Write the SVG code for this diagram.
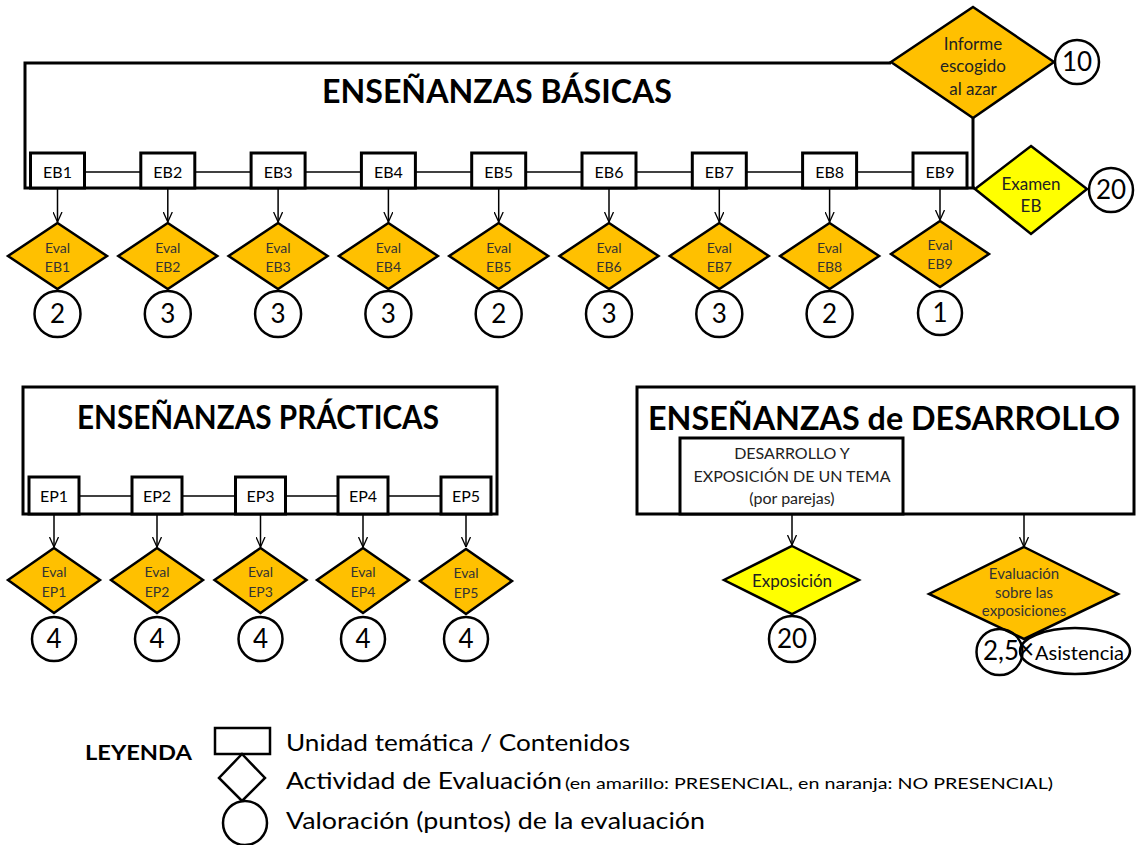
<svg xmlns="http://www.w3.org/2000/svg" width="1136" height="845" viewBox="0 0 1136 845">
<style>
text{font-family:Lato,"Liberation Sans",sans-serif;fill:#000}
.frame{fill:#fff;stroke:#000;stroke-width:3}
.box{fill:#fff;stroke:#000;stroke-width:3}
.dor{fill:#FFC000;stroke:#000;stroke-width:2.5;stroke-linejoin:miter}
.dye{fill:#FFFF00;stroke:#000;stroke-width:2.5}
.circ{fill:#fff;stroke:#000;stroke-width:2.5}
.ln{stroke:#000;stroke-width:1.5;fill:none}
.thick{stroke:#000;stroke-width:3;fill:none}
.title{font-weight:bold;font-size:32px}
.bl{font-size:16px;text-anchor:middle}
.ev{font-size:14px;text-anchor:middle;fill:#333}
.num{font-size:26px;text-anchor:middle}
.dt{font-size:16px;text-anchor:middle;fill:#222}
.leg{font-size:23px}
</style>
<defs>
<marker id="arr" viewBox="0 0 10 10" refX="10" refY="5" markerWidth="10" markerHeight="10" markerUnits="userSpaceOnUse" orient="auto">
<path d="M0,0.5 L10,5 L0,9.5" fill="none" stroke="#000" stroke-width="1.3"/>
</marker>
</defs>

<!-- Frames -->
<g id="frame-eb">
<path class="thick" d="M891,63 L25,63 L25,188 L975,188 M973,118 L973,188"/>
<text class="title" x="322" y="103" textLength="350" lengthAdjust="spacingAndGlyphs">ENSEÑANZAS BÁSICAS</text>
</g>
<g id="frame-ep">
<rect class="frame" x="23" y="387" width="474" height="127"/>
<text class="title" x="77" y="429" textLength="362" lengthAdjust="spacingAndGlyphs">ENSEÑANZAS PRÁCTICAS</text>
</g>
<g id="frame-ed">
<rect class="frame" x="637" y="387" width="497" height="127"/>
<text class="title" x="648" y="430" textLength="472" lengthAdjust="spacingAndGlyphs">ENSEÑANZAS de DESARROLLO</text>
</g>

<!-- Connectors -->
<g id="connectors">
<line class="ln" x1="57" y1="172" x2="940" y2="172"/>
<line class="ln" x1="54" y1="496" x2="466" y2="496"/>
<line class="ln" x1="57.5" y1="188" x2="57.5" y2="222" marker-end="url(#arr)"/>
<line class="ln" x1="167.8" y1="188" x2="167.8" y2="222" marker-end="url(#arr)"/>
<line class="ln" x1="278.1" y1="188" x2="278.1" y2="222" marker-end="url(#arr)"/>
<line class="ln" x1="388.4" y1="188" x2="388.4" y2="222" marker-end="url(#arr)"/>
<line class="ln" x1="498.7" y1="188" x2="498.7" y2="222" marker-end="url(#arr)"/>
<line class="ln" x1="609" y1="188" x2="609" y2="222" marker-end="url(#arr)"/>
<line class="ln" x1="719.3" y1="188" x2="719.3" y2="222" marker-end="url(#arr)"/>
<line class="ln" x1="829.6" y1="188" x2="829.6" y2="222" marker-end="url(#arr)"/>
<line class="ln" x1="940" y1="188" x2="940" y2="220" marker-end="url(#arr)"/>
<line class="ln" x1="54" y1="514" x2="54" y2="547" marker-end="url(#arr)"/>
<line class="ln" x1="157" y1="514" x2="157" y2="547" marker-end="url(#arr)"/>
<line class="ln" x1="260.5" y1="514" x2="260.5" y2="547" marker-end="url(#arr)"/>
<line class="ln" x1="363" y1="514" x2="363" y2="547" marker-end="url(#arr)"/>
<line class="ln" x1="466" y1="514" x2="466" y2="547" marker-end="url(#arr)"/>
<line class="ln" x1="792" y1="514" x2="792" y2="545" marker-end="url(#arr)"/>
<line class="ln" x1="1024" y1="514" x2="1024" y2="547" marker-end="url(#arr)"/>
</g>

<!-- EB boxes -->
<g id="EB1"><rect class="box" x="30.5" y="153" width="54" height="35"/><text class="bl" x="57.5" y="178">EB1</text></g>
<g id="EB2"><rect class="box" x="140.8" y="153" width="54" height="35"/><text class="bl" x="167.8" y="178">EB2</text></g>
<g id="EB3"><rect class="box" x="251.1" y="153" width="54" height="35"/><text class="bl" x="278.1" y="178">EB3</text></g>
<g id="EB4"><rect class="box" x="361.4" y="153" width="54" height="35"/><text class="bl" x="388.4" y="178">EB4</text></g>
<g id="EB5"><rect class="box" x="471.7" y="153" width="54" height="35"/><text class="bl" x="498.7" y="178">EB5</text></g>
<g id="EB6"><rect class="box" x="582" y="153" width="54" height="35"/><text class="bl" x="609" y="178">EB6</text></g>
<g id="EB7"><rect class="box" x="692.3" y="153" width="54" height="35"/><text class="bl" x="719.3" y="178">EB7</text></g>
<g id="EB8"><rect class="box" x="802.6" y="153" width="54" height="35"/><text class="bl" x="829.6" y="178">EB8</text></g>
<g id="EB9"><rect class="box" x="913" y="153" width="54" height="35"/><text class="bl" x="940" y="178">EB9</text></g>

<!-- EB evaluation diamonds -->
<g id="EvalEB1"><polygon class="dor" points="57.5,223 107,256 57.5,289 8,256"/><text class="ev" x="57.5" y="253">Eval</text><text class="ev" x="57.5" y="272">EB1</text></g>
<g id="EvalEB2"><polygon class="dor" points="167.8,223 217.3,256 167.8,289 118.3,256"/><text class="ev" x="167.8" y="253">Eval</text><text class="ev" x="167.8" y="272">EB2</text></g>
<g id="EvalEB3"><polygon class="dor" points="278.1,223 327.6,256 278.1,289 228.6,256"/><text class="ev" x="278.1" y="253">Eval</text><text class="ev" x="278.1" y="272">EB3</text></g>
<g id="EvalEB4"><polygon class="dor" points="388.4,223 437.9,256 388.4,289 338.9,256"/><text class="ev" x="388.4" y="253">Eval</text><text class="ev" x="388.4" y="272">EB4</text></g>
<g id="EvalEB5"><polygon class="dor" points="498.7,223 548.2,256 498.7,289 449.2,256"/><text class="ev" x="498.7" y="253">Eval</text><text class="ev" x="498.7" y="272">EB5</text></g>
<g id="EvalEB6"><polygon class="dor" points="609,223 658.5,256 609,289 559.5,256"/><text class="ev" x="609" y="253">Eval</text><text class="ev" x="609" y="272">EB6</text></g>
<g id="EvalEB7"><polygon class="dor" points="719.3,223 768.8,256 719.3,289 669.8,256"/><text class="ev" x="719.3" y="253">Eval</text><text class="ev" x="719.3" y="272">EB7</text></g>
<g id="EvalEB8"><polygon class="dor" points="829.6,223 879.1,256 829.6,289 780.1,256"/><text class="ev" x="829.6" y="253">Eval</text><text class="ev" x="829.6" y="272">EB8</text></g>
<g id="EvalEB9"><polygon class="dor" points="940,221 989,254 940,287 891,254"/><text class="ev" x="940" y="250">Eval</text><text class="ev" x="940" y="269">EB9</text></g>

<!-- EB points -->
<g id="ptEB1"><circle class="circ" cx="57.5" cy="314" r="23"/><text class="num" x="57.5" y="323">2</text></g>
<g id="ptEB2"><circle class="circ" cx="167.8" cy="314" r="23"/><text class="num" x="167.8" y="323">3</text></g>
<g id="ptEB3"><circle class="circ" cx="278.1" cy="314" r="23"/><text class="num" x="278.1" y="323">3</text></g>
<g id="ptEB4"><circle class="circ" cx="388.4" cy="314" r="23"/><text class="num" x="388.4" y="323">3</text></g>
<g id="ptEB5"><circle class="circ" cx="498.7" cy="314" r="23"/><text class="num" x="498.7" y="323">2</text></g>
<g id="ptEB6"><circle class="circ" cx="609" cy="314" r="23"/><text class="num" x="609" y="323">3</text></g>
<g id="ptEB7"><circle class="circ" cx="719.3" cy="314" r="23"/><text class="num" x="719.3" y="323">3</text></g>
<g id="ptEB8"><circle class="circ" cx="829.6" cy="314" r="23"/><text class="num" x="829.6" y="323">2</text></g>
<g id="ptEB9"><circle class="circ" cx="940" cy="313" r="22"/><text class="num" x="940" y="322">1</text></g>

<!-- Informe / Examen -->
<g id="Informe"><polygon class="dor" points="973,7 1054,62 973,118 891,62"/><text class="dt" x="973" y="50" style="font-size:17px">Informe</text><text class="dt" x="973" y="72" style="font-size:17px">escogido</text><text class="dt" x="973" y="95" style="font-size:17px">al azar</text></g>
<g id="ptInforme"><circle class="circ" cx="1077" cy="62" r="22"/><text class="num" x="1077" y="71">10</text></g>
<g id="ExamenEB"><polygon class="dye" points="1031,146 1087,189 1031,234 975,189"/><text class="dt" x="1031" y="190" style="font-size:17px">Examen</text><text class="dt" x="1031" y="212" style="font-size:17px">EB</text></g>
<g id="ptExamen"><circle class="circ" cx="1111" cy="190" r="22"/><text class="num" x="1111" y="199">20</text></g>

<!-- EP boxes -->
<g id="EP1"><rect class="box" x="29" y="477" width="50" height="37"/><text class="bl" x="54" y="502">EP1</text></g>
<g id="EP2"><rect class="box" x="132" y="477" width="50" height="37"/><text class="bl" x="157" y="502">EP2</text></g>
<g id="EP3"><rect class="box" x="235.5" y="477" width="50" height="37"/><text class="bl" x="260.5" y="502">EP3</text></g>
<g id="EP4"><rect class="box" x="338" y="477" width="50" height="37"/><text class="bl" x="363" y="502">EP4</text></g>
<g id="EP5"><rect class="box" x="441" y="477" width="50" height="37"/><text class="bl" x="466" y="502">EP5</text></g>

<g id="EvalEP1"><polygon class="dor" points="54,548 100,580 54,613 8,580"/><text class="ev" x="54" y="577">Eval</text><text class="ev" x="54" y="597">EP1</text></g>
<g id="EvalEP2"><polygon class="dor" points="157,548 203,580 157,613 111,580"/><text class="ev" x="157" y="577">Eval</text><text class="ev" x="157" y="597">EP2</text></g>
<g id="EvalEP3"><polygon class="dor" points="260.5,548 306.5,580 260.5,613 214.5,580"/><text class="ev" x="260.5" y="577">Eval</text><text class="ev" x="260.5" y="597">EP3</text></g>
<g id="EvalEP4"><polygon class="dor" points="363,548 409,580 363,613 317,580"/><text class="ev" x="363" y="577">Eval</text><text class="ev" x="363" y="597">EP4</text></g>
<g id="EvalEP5"><polygon class="dor" points="466,549 512,581 466,614 420,581"/><text class="ev" x="466" y="578">Eval</text><text class="ev" x="466" y="598">EP5</text></g>

<g id="ptEP1"><circle class="circ" cx="54" cy="639" r="22"/><text class="num" x="54" y="648">4</text></g>
<g id="ptEP2"><circle class="circ" cx="157" cy="639" r="22"/><text class="num" x="157" y="648">4</text></g>
<g id="ptEP3"><circle class="circ" cx="260.5" cy="639" r="22"/><text class="num" x="260.5" y="648">4</text></g>
<g id="ptEP4"><circle class="circ" cx="363" cy="639" r="22"/><text class="num" x="363" y="648">4</text></g>
<g id="ptEP5"><circle class="circ" cx="466" cy="639" r="22"/><text class="num" x="466" y="648">4</text></g>

<!-- ED -->
<g id="Desarrollo"><rect class="box" x="680" y="438" width="223" height="76"/>
<text class="dt" x="792" y="459">DESARROLLO Y</text>
<text class="dt" x="792" y="482" textLength="197" lengthAdjust="spacingAndGlyphs">EXPOSICIÓN DE UN TEMA</text>
<text class="dt" x="792" y="504">(por parejas)</text></g>
<g id="Exposicion"><polygon class="dye" points="792,546 859,580 792,614 724,580"/><text class="dt" x="792" y="587" style="font-size:17px">Exposición</text></g>
<g id="ptExposicion"><circle class="circ" cx="792" cy="639" r="23"/><text class="num" x="792" y="648">20</text></g>
<g id="EvalExpo"><polygon class="dor" points="1024,547 1118,594 1024,639 929,594"/><text class="ev" x="1024" y="579" style="font-size:15px">Evaluación</text><text class="ev" x="1024" y="598" style="font-size:15px">sobre las</text><text class="ev" x="1024" y="616" style="font-size:15px">exposiciones</text></g>
<g id="ptEvalExpo"><ellipse class="circ" cx="1075" cy="651" rx="55" ry="23"/><circle cx="999.5" cy="652" r="23" fill="none" stroke="#000" stroke-width="2.5"/><text class="num" x="1001" y="660">2,5</text><text x="1026" y="659" style="font-size:28px;text-anchor:middle">×</text><text x="1035" y="660" style="font-size:20px" textLength="89" lengthAdjust="spacingAndGlyphs">Asistencia</text></g>

<!-- Legend -->
<g id="legend">
<text x="85" y="760" style="font-weight:bold;font-size:21px" textLength="107" lengthAdjust="spacingAndGlyphs">LEYENDA</text>
<rect x="215" y="728" width="55" height="26" fill="#fff" stroke="#000" stroke-width="2.5"/>
<polygon points="242,754 265,778 242,801 219,778" fill="#fff" stroke="#000" stroke-width="2.5"/>
<circle cx="245" cy="823" r="22" fill="#fff" stroke="#000" stroke-width="2.5"/>
<text class="leg" x="286" y="751" textLength="344" lengthAdjust="spacingAndGlyphs">Unidad temática / Contenidos</text>
<text class="leg" x="286" y="789" textLength="276" lengthAdjust="spacingAndGlyphs">Actividad de Evaluación</text>
<text x="565" y="789" style="font-size:16px" textLength="488" lengthAdjust="spacingAndGlyphs">(en amarillo: PRESENCIAL, en naranja: NO PRESENCIAL)</text>
<text class="leg" x="286" y="829" textLength="419" lengthAdjust="spacingAndGlyphs">Valoración (puntos) de la evaluación</text>
</g>
</svg>
